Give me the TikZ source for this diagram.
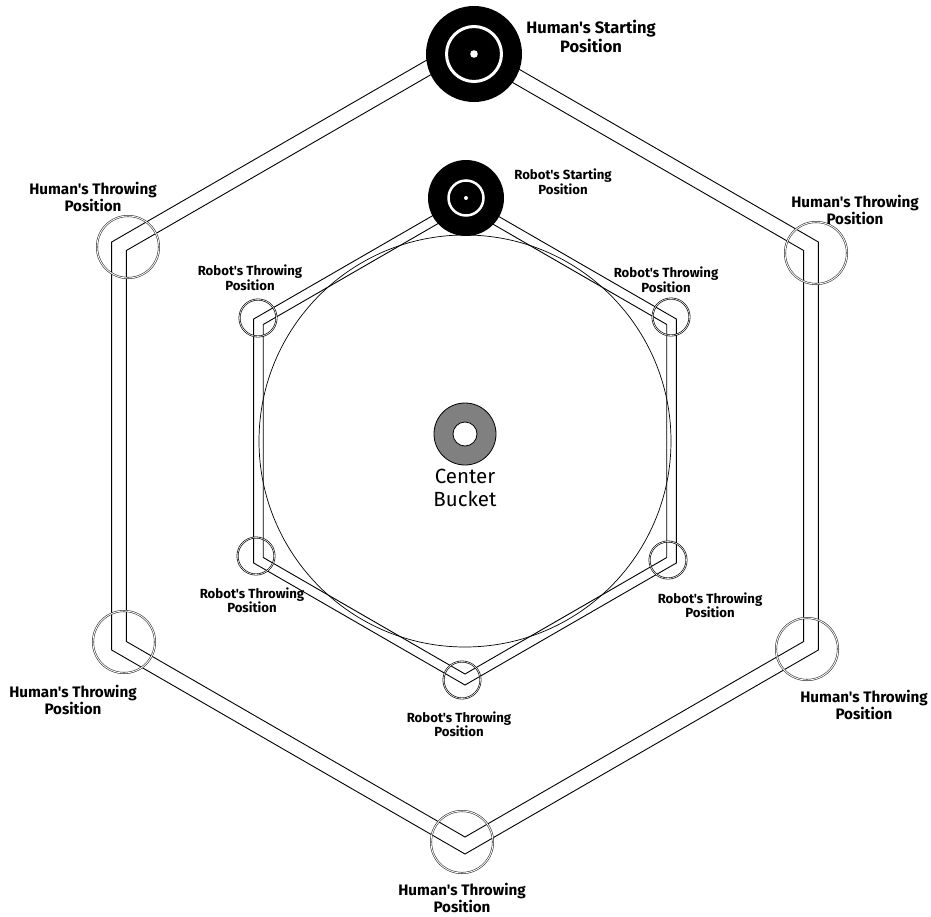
\documentclass[tikz,border=0pt]{standalone}
\usepackage{fontspec}
\setmainfont{Fira Sans}[Ligatures=TeXOff]
\usetikzlibrary{calc}
\begin{document}
\begin{tikzpicture}[x=1pt,y=-1pt,
  track/.style={draw=black, line width=0.9pt, line join=miter},
  humanspot/.style={circle, draw=black!85, line width=0.55pt, double=white, double distance=0.9pt, minimum size=62pt, inner sep=0pt},
  robotspot/.style={circle, draw=black, line width=0.65pt, double=white, double distance=0.6pt, minimum size=37pt, inner sep=0pt},
  humanlabel/.style={font=\bfseries\fontsize{15.2}{16.5}\selectfont, align=center, inner sep=0pt},
  robotlabel/.style={font=\bfseries\fontsize{13.2}{14.5}\selectfont, align=center, inner sep=0pt}]
\useasboundingbox (0,0) rectangle (931,916);
\fill[white] (0,0) rectangle (931,916);

% centres of the two tracks
\coordinate (hc) at (465,446);
\coordinate (rc) at (465,441);

% outer (human) track: two concentric hexagons
\foreach \r in {408,391}
  \draw[track] ($(hc)+(30:\r)$) \foreach \a in {90,150,...,390} { -- ($(hc)+(\a:\r)$) } -- cycle;

% inner (robot) track
\foreach \r in {244,233}
  \draw[track] ($(rc)+(30:\r)$) \foreach \a in {90,150,...,390} { -- ($(rc)+(\a:\r)$) } -- cycle;

% circle inside the robot track
\node (ring) [circle, draw=black, line width=0.7pt, minimum size=412pt, inner sep=0pt] at (rc) {};

% throwing positions of the human
\node (h1) [humanspot] at (128,247) {};
\node (h2) [humanspot] at (124,642) {};
\node (h3) [humanspot] at (462,842) {};
\node (h4) [humanspot] at (807,649) {};
\node (h5) [humanspot] at (816,253) {};

% throwing positions of the robot
\node (r1) [robotspot] at (258,318) {};
\node (r2) [robotspot] at (256,556) {};
\node (r3) [robotspot] at (462,680) {};
\node (r4) [robotspot] at (668,560) {};
\node (r5) [robotspot] at (671,317) {};

% starting positions
\node (hs) [circle, fill=black, minimum size=96pt, inner sep=0pt] at (474,54) {};
\draw[white, line width=3pt] (hs.center) circle[radius=27.5];
\fill[white] (hs.center) circle[radius=3.8];

\node (rs) [circle, fill=black, minimum size=76pt, inner sep=0pt] at (466,198) {};
\draw[white, line width=2.5pt] (rs.center) circle[radius=17.5];
\fill[white] (rs.center) circle[radius=2];

% center bucket
\node (bucket) [circle, fill=black!50, draw=black, line width=0.8pt, minimum size=62pt, inner sep=0pt] at (465,434) {};
\node (hole) [circle, fill=white, draw=black, line width=0.8pt, minimum size=24pt, inner sep=0pt] at (bucket.center) {};
\node (bucketlabel) [font=\fontsize{20.5}{23}\selectfont, align=center, inner sep=0pt] at (465,488) {Center\\Bucket};

% labels
\node (lhs) [humanlabel, font=\bfseries\fontsize{16.5}{19}\selectfont] at (591,36) {Human's Starting\\Position};
\node (lrs) [robotlabel] at (563,182) {Robot's Starting\\Position};
\node (lh1) [humanlabel] at (93,197) {Human's Throwing\\Position};
\node (lh5) [humanlabel] at (855,210) {Human's Throwing\\Position};
\node (lh2) [humanlabel] at (73,700) {Human's Throwing\\Position};
\node (lh4) [humanlabel] at (864,705) {Human's Throwing\\Position};
\node (lh3) [humanlabel] at (462,898) {Human's Throwing\\Position};
\node (lr1) [robotlabel] at (250,278) {Robot's Throwing\\Position};
\node (lr5) [robotlabel] at (666,280) {Robot's Throwing\\Position};
\node (lr2) [robotlabel] at (252,600) {Robot's Throwing\\Position};
\node (lr4) [robotlabel] at (710,605) {Robot's Throwing\\Position};
\node (lr3) [robotlabel] at (459,724) {Robot's Throwing\\Position};
\end{tikzpicture}
\end{document}
